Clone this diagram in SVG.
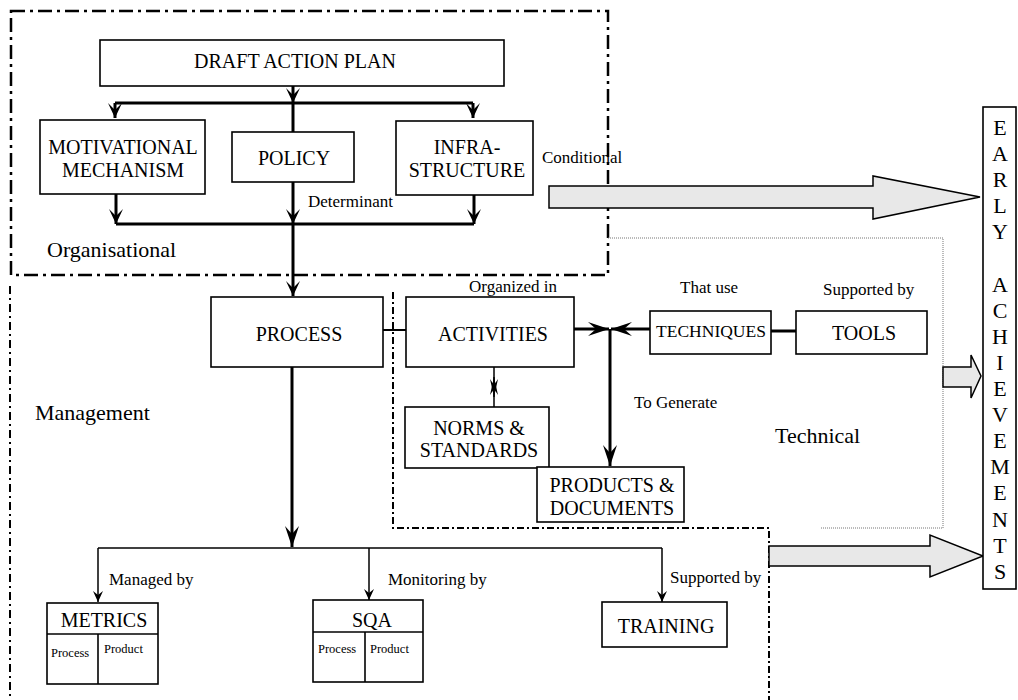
<svg xmlns="http://www.w3.org/2000/svg" width="1018" height="700" viewBox="0 0 1018 700">
<defs>
<style>
text{font-family:"Liberation Serif","Times New Roman",serif;fill:#000}
.box{fill:#fff;stroke:#000;stroke-width:1.6}
.t20{font-size:20px;text-anchor:middle}
.t17{font-size:17px}
.t22{font-size:22px}
.t12{font-size:12.5px}
.thick{stroke:#000;stroke-width:3;fill:none}
.thin{stroke:#000;stroke-width:1.5;fill:none}
.big{fill:#e8e8e8;stroke:#000;stroke-width:1.5}
.ea{font-size:22px;text-anchor:middle}
</style>
<marker id="ah" viewBox="-16 -8 17 16" refX="0" refY="0" markerWidth="17" markerHeight="16" markerUnits="userSpaceOnUse" orient="auto">
<path d="M0,0 L-15,-7 L-8,0 L-15,7 Z" fill="#000"/>
</marker>
<marker id="ahl" viewBox="-22 -8 23 16" refX="0" refY="0" markerWidth="23" markerHeight="16" markerUnits="userSpaceOnUse" orient="auto">
<path d="M0,0 L-21,-7 L-13,0 L-21,7 Z" fill="#000"/>
</marker>
<marker id="ahs" viewBox="-12 -6 13 12" refX="0" refY="0" markerWidth="13" markerHeight="12" markerUnits="userSpaceOnUse" orient="auto">
<path d="M0,0 L-11,-5 L-7,0 L-11,5 Z" fill="#000"/>
</marker>
<marker id="ahx" viewBox="-19 -5 20 10" refX="0" refY="0" markerWidth="20" markerHeight="10" markerUnits="userSpaceOnUse" orient="auto">
<path d="M0,0 L-18,-4 L-12,0 L-18,4 Z" fill="#000"/>
</marker>
</defs>

<g id="region-labels">
<text class="t17" x="542" y="163">Conditional</text>
</g>

<g id="boundaries">
<rect x="11" y="11" width="597" height="264" fill="none" stroke="#000" stroke-width="2.5" stroke-dasharray="14 5 3 5"/>
<line x1="10" y1="286" x2="10" y2="700" stroke="#000" stroke-width="2" stroke-dasharray="8 4 2 4"/>
<polyline points="393,292 393,528 769,528 769,700" fill="none" stroke="#000" stroke-width="2" stroke-dasharray="7 3 2 3"/>
<polyline points="608,238 943,238 943,528 820,528" fill="none" stroke="#777" stroke-width="1" stroke-dasharray="1 1"/>
</g>

<g id="big-arrows">
<polygon class="big" points="549,186 873,186 873,176 980,197 873,219 873,208 549,208"/>
<polygon class="big" points="943,367 971,367 971,355 981,376 971,398 971,387 943,387"/>
<polygon class="big" points="769,546 930,546 930,535 983,556 930,577 930,566 769,566"/>
</g>

<g id="connectors">
<line class="thick" x1="293" y1="86" x2="293" y2="103" marker-end="url(#ah)"/>
<line class="thick" x1="115" y1="103" x2="473" y2="103"/>
<line class="thick" x1="115" y1="103" x2="115" y2="118" marker-end="url(#ah)"/>
<line class="thick" x1="473" y1="103" x2="473" y2="118" marker-end="url(#ah)"/>
<line class="thick" x1="293" y1="103" x2="293" y2="132"/>
<line class="thick" x1="116" y1="194" x2="116" y2="224" marker-end="url(#ah)"/>
<line class="thick" x1="293" y1="182" x2="293" y2="224" marker-end="url(#ah)"/>
<line class="thick" x1="474" y1="195" x2="474" y2="224" marker-end="url(#ah)"/>
<line class="thick" x1="116" y1="224" x2="474" y2="224"/>
<line class="thick" x1="293" y1="224" x2="293" y2="296" marker-end="url(#ah)"/>
<line x1="383" y1="330" x2="406" y2="330" stroke="#000" stroke-width="2"/>
<line class="thick" x1="574" y1="329" x2="609" y2="329" marker-end="url(#ahl)"/>
<line class="thick" x1="650" y1="329" x2="611" y2="329" marker-end="url(#ahl)"/>
<line class="thick" x1="610" y1="329" x2="610" y2="466" marker-end="url(#ahl)"/>
<line class="thick" x1="771" y1="331" x2="796" y2="331"/>
<line class="thin" x1="494" y1="367" x2="494" y2="397" marker-end="url(#ahx)"/>
<line class="thin" x1="494" y1="407" x2="494" y2="377" marker-end="url(#ahx)"/>
<line class="thick" x1="292" y1="367" x2="292" y2="547" marker-end="url(#ahl)"/>
<line class="thin" x1="98" y1="548" x2="662" y2="548"/>
<line class="thin" x1="98" y1="548" x2="98" y2="602" marker-end="url(#ahs)"/>
<line class="thin" x1="369" y1="548" x2="369" y2="600" marker-end="url(#ahs)"/>
<line class="thin" x1="662" y1="548" x2="662" y2="602" marker-end="url(#ahs)"/>
</g>

<g id="labels">
<text class="t17" x="308" y="207">Determinant</text>
<text class="t22" x="47" y="257">Organisational</text>
<text class="t22" x="35" y="420">Management</text>
<text class="t17" x="469" y="292">Organized in</text>
<text class="t17" x="680" y="293">That use</text>
<text class="t17" x="823" y="295">Supported by</text>
<text class="t17" x="634" y="408">To Generate</text>
<text class="t22" x="775" y="443">Technical</text>
<text class="t17" x="109" y="585">Managed by</text>
<text class="t17" x="388" y="585">Monitoring by</text>
<text class="t17" x="670" y="583">Supported by</text>
</g>

<g id="draft-action-plan">
<rect class="box" x="100" y="40" width="404" height="46"/>
<text class="t20" x="295" y="68">DRAFT ACTION PLAN</text>
</g>
<g id="motivational-mechanism">
<rect class="box" x="40" y="120" width="165" height="74"/>
<text class="t20" x="123" y="154">MOTIVATIONAL</text>
<text class="t20" x="123" y="177">MECHANISM</text>
</g>
<g id="policy">
<rect class="box" x="232" y="132" width="122" height="50"/>
<text class="t20" x="294" y="165">POLICY</text>
</g>
<g id="infrastructure">
<rect class="box" x="396" y="121" width="137" height="74"/>
<text class="t20" x="467" y="154">INFRA-</text>
<text class="t20" x="467" y="177">STRUCTURE</text>
</g>
<g id="process">
<rect class="box" x="211" y="297" width="172" height="70"/>
<text class="t20" x="299" y="341">PROCESS</text>
</g>
<g id="activities">
<rect class="box" x="406" y="297" width="168" height="70"/>
<text class="t20" x="493" y="341">ACTIVITIES</text>
</g>
<g id="techniques">
<rect class="box" x="650" y="311" width="121" height="43"/>
<text x="711" y="337" style="font-size:17.5px;text-anchor:middle">TECHNIQUES</text>
</g>
<g id="tools">
<rect class="box" x="796" y="311" width="131" height="43"/>
<text class="t20" x="864" y="340">TOOLS</text>
</g>
<g id="norms-standards">
<rect class="box" x="405" y="407" width="144" height="61"/>
<text class="t20" x="479" y="435">NORMS &amp;</text>
<text class="t20" x="479" y="457">STANDARDS</text>
</g>
<g id="products-documents">
<rect class="box" x="537" y="467" width="147" height="55"/>
<text class="t20" x="612" y="492">PRODUCTS &amp;</text>
<text class="t20" x="612" y="515">DOCUMENTS</text>
</g>
<g id="metrics">
<rect class="box" x="47" y="603" width="111" height="81"/>
<line x1="47" y1="634" x2="158" y2="634" stroke="#000" stroke-width="1.6"/>
<line x1="98" y1="634" x2="98" y2="684" stroke="#000" stroke-width="1.6"/>
<text class="t20" x="104" y="627">METRICS</text>
<text class="t12" x="51" y="657">Process</text>
<text class="t12" x="104" y="653">Product</text>
</g>
<g id="sqa">
<rect class="box" x="313" y="600" width="110" height="82"/>
<line x1="313" y1="632" x2="423" y2="632" stroke="#000" stroke-width="1.6"/>
<line x1="365" y1="632" x2="365" y2="682" stroke="#000" stroke-width="1.6"/>
<text class="t20" x="372" y="627">SQA</text>
<text class="t12" x="318" y="653">Process</text>
<text class="t12" x="370" y="653">Product</text>
</g>
<g id="training">
<rect class="box" x="602" y="602" width="125" height="45"/>
<text class="t20" x="666" y="633">TRAINING</text>
</g>
<g id="early-achievements">
<rect class="box" x="983" y="107" width="33" height="482"/>
<text class="ea" x="1000" y="135">E</text>
<text class="ea" x="1000" y="161.1">A</text>
<text class="ea" x="1000" y="187.2">R</text>
<text class="ea" x="1000" y="213.3">L</text>
<text class="ea" x="1000" y="239.4">Y</text>
<text class="ea" x="1000" y="291.6">A</text>
<text class="ea" x="1000" y="317.7">C</text>
<text class="ea" x="1000" y="343.8">H</text>
<text class="ea" x="1000" y="369.9">I</text>
<text class="ea" x="1000" y="396">E</text>
<text class="ea" x="1000" y="422.1">V</text>
<text class="ea" x="1000" y="448.2">E</text>
<text class="ea" x="1000" y="474.3">M</text>
<text class="ea" x="1000" y="500.4">E</text>
<text class="ea" x="1000" y="526.5">N</text>
<text class="ea" x="1000" y="552.6">T</text>
<text class="ea" x="1000" y="578.7">S</text>
</g>
</svg>
